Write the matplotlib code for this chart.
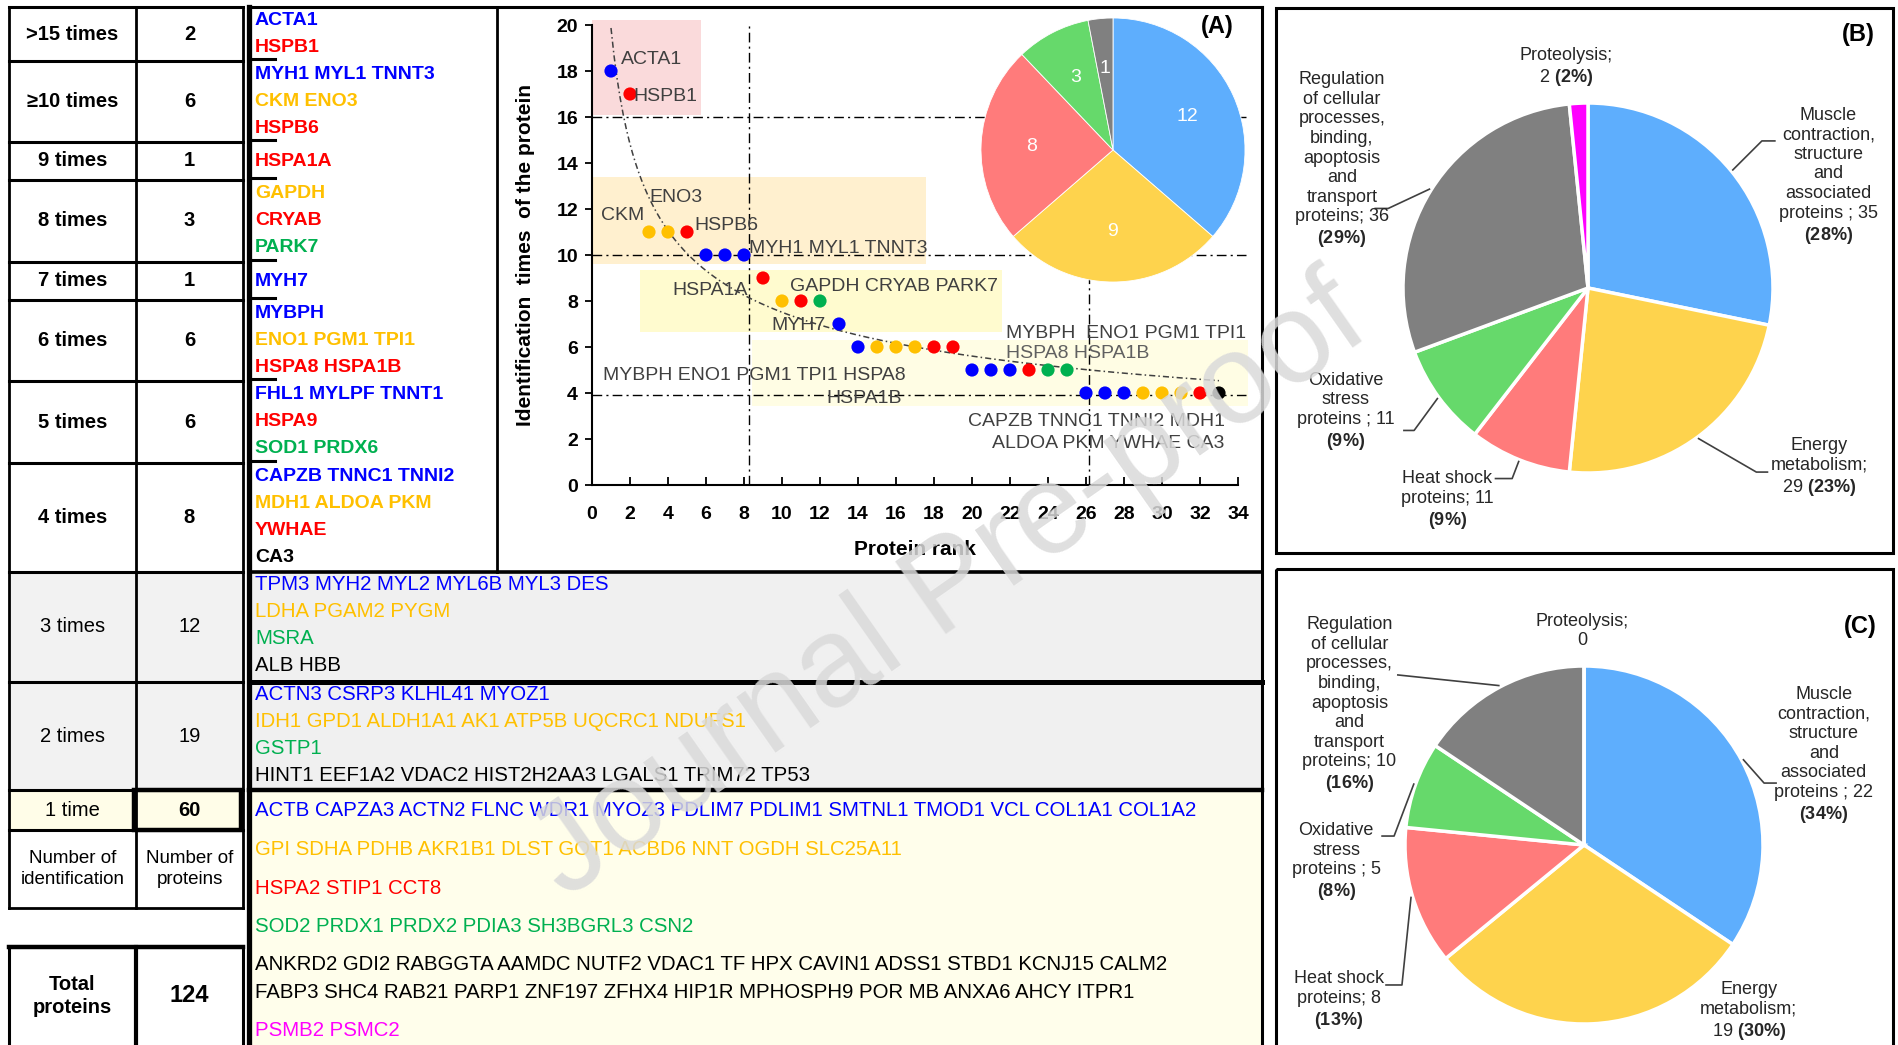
import numpy as np
import matplotlib
matplotlib.use('Agg')
import matplotlib.pyplot as plt
from matplotlib.patches import Rectangle

plt.rcParams['font.family'] = ['Liberation Sans', 'DejaVu Sans']
plt.rcParams['mathtext.fontset'] = 'custom'
plt.rcParams['mathtext.rm'] = 'Liberation Sans'
plt.rcParams['mathtext.bf'] = 'Liberation Sans:bold'

# ---------------- data ----------------
freq_labels = ['>15 times', '≥10 times', '9 times', '8 times', '7 times', '6 times',
               '5 times', '4 times', '3 times', '2 times', '1 time']
protein_counts = [2, 6, 1, 3, 1, 6, 6, 8, 12, 19, 60]

# proteins per identification class, (names, functional group)
gene_rows = [
    [('ACTA1', 'blue'), ('HSPB1', 'red')],
    [('MYH1 MYL1 TNNT3', 'blue'), ('CKM ENO3', 'orange'), ('HSPB6', 'red')],
    [('HSPA1A', 'red')],
    [('GAPDH', 'orange'), ('CRYAB', 'red'), ('PARK7', 'green')],
    [('MYH7', 'blue')],
    [('MYBPH', 'blue'), ('ENO1 PGM1 TPI1', 'orange'), ('HSPA8 HSPA1B', 'red')],
    [('FHL1 MYLPF TNNT1', 'blue'), ('HSPA9', 'red'), ('SOD1 PRDX6', 'green')],
    [('CAPZB TNNC1 TNNI2', 'blue'), ('MDH1 ALDOA PKM', 'orange'), ('YWHAE', 'red'), ('CA3', 'black')],
    [('TPM3 MYH2 MYL2 MYL6B MYL3 DES', 'blue'), ('LDHA PGAM2 PYGM', 'orange'),
     ('MSRA', 'green'), ('ALB HBB', 'black')],
    [('ACTN3 CSRP3 KLHL41 MYOZ1', 'blue'), ('IDH1 GPD1 ALDH1A1 AK1 ATP5B UQCRC1 NDUFS1', 'orange'),
     ('GSTP1', 'green'), ('HINT1 EEF1A2 VDAC2 HIST2H2AA3 LGALS1 TRIM72 TP53', 'black')],
    [('ACTB CAPZA3 ACTN2 FLNC WDR1 MYOZ3 PDLIM7 PDLIM1 SMTNL1 TMOD1 VCL COL1A1 COL1A2', 'blue'),
     ('GPI SDHA PDHB AKR1B1 DLST GOT1 ACBD6 NNT OGDH SLC25A11', 'orange'),
     ('HSPA2 STIP1 CCT8', 'red'),
     ('SOD2 PRDX1 PRDX2 PDIA3 SH3BGRL3 CSN2', 'green'),
     ('ANKRD2 GDI2 RABGGTA AAMDC NUTF2 VDAC1 TF HPX CAVIN1 ADSS1 STBD1 KCNJ15 CALM2\n'
      'FABP3 SHC4 RAB21 PARP1 ZNF197 ZFHX4 HIP1R MPHOSPH9 POR MB ANXA6 AHCY ITPR1', 'black'),
     ('PSMB2 PSMC2', 'magenta')],
]

# scatter (A): protein rank vs identification times
rank = [1, 2, 3, 4, 5, 6, 7, 8, 9, 10, 11, 12, 13, 14, 15, 16, 17,
        18, 19, 20, 21, 22, 23, 24, 25, 26, 27, 28, 29, 30, 31, 32, 33]
times = [18, 17, 11, 11, 11, 10, 10, 10, 9, 8, 8, 8, 7, 6, 6, 6, 6,
         6, 6, 5, 5, 5, 5, 5, 5, 4, 4, 4, 4, 4, 4, 4, 4]
dot_group = ['blue', 'red', 'orange', 'orange', 'red', 'blue', 'blue', 'blue', 'red',
             'orange', 'red', 'green', 'blue', 'blue', 'orange', 'orange', 'orange',
             'red', 'red', 'blue', 'blue', 'blue', 'red', 'green', 'green',
             'blue', 'blue', 'blue', 'orange', 'orange', 'orange', 'red', 'black']

scatter_labels = [
    ('ACTA1', 1.55, 18.5, 'left'), ('HSPB1', 2.2, 16.9, 'left'),
    ('ENO3', 3.0, 12.5, 'left'), ('CKM', 0.45, 11.7, 'left'), ('HSPB6', 5.4, 11.3, 'left'),
    ('MYH1 MYL1 TNNT3', 8.25, 10.3, 'left'), ('HSPA1A', 8.2, 8.45, 'right'),
    ('GAPDH CRYAB PARK7', 10.4, 8.65, 'left'), ('MYH7', 12.3, 6.95, 'right'),
    ('MYBPH  ENO1 PGM1 TPI1', 21.8, 6.6, 'left'), ('HSPA8 HSPA1B', 21.8, 5.7, 'left'),
    ('MYBPH ENO1 PGM1 TPI1 HSPA8', 0.6, 4.75, 'left'), ('HSPA1B', 14.3, 3.78, 'center'),
    ('CAPZB TNNC1 TNNI2 MDH1', 33.3, 2.75, 'right'), ('ALDOA PKM YWHAE CA3', 33.3, 1.8, 'right'),
]

pie_a_counts = [12, 9, 8, 3, 1]
pie_b_counts = [35, 29, 11, 11, 36, 2]
pie_c_counts = [22, 19, 8, 5, 10, 0]
pie_label_tmpl = [
    'Muscle\ncontraction,\nstructure\nand\nassociated\nproteins ; {n}\n{p}',
    'Energy\nmetabolism;\n{n} {p}',
    'Heat shock\nproteins; {n}\n{p}',
    'Oxidative\nstress\nproteins ; {n}\n{p}',
    'Regulation\nof cellular\nprocesses,\nbinding,\napoptosis\nand\ntransport\nproteins; {n}\n{p}',
    'Proteolysis;\n{n} {p}',
]

gene_colors = {'blue': '#0000FF', 'red': '#FF0000', 'orange': '#FFC000',
               'green': '#00B050', 'black': '#000000', 'magenta': '#FF00FF'}
pie_colors = ['#5EAEFD', '#FED34D', '#FF7B7B', '#66D96B', '#808080', '#FF00FF']

# ---------------- figure ----------------
W, H = 1898, 1045
fig = plt.figure(figsize=(W / 100, H / 100), dpi=100)
bg = fig.add_axes([0, 0, 1, 1])
bg.set_xlim(0, W)
bg.set_ylim(H, 0)
bg.axis('off')


def hline(y, x0, x1, lw=2.0):
    bg.plot([x0, x1], [y, y], color='black', lw=lw, solid_capstyle='projecting')


def vline(x, y0, y1, lw=2.0):
    bg.plot([x, x], [y0, y1], color='black', lw=lw, solid_capstyle='projecting')


col_x = [9, 136, 243]
gx0, gx_top, gx1 = 249, 497, 1262
row_y = [7, 61, 142, 180, 262, 300, 381, 463, 572, 682, 790, 830]

# shaded rows
for i in (8, 9):
    bg.add_patch(Rectangle((col_x[0], row_y[i]), col_x[2] - col_x[0], row_y[i + 1] - row_y[i],
                           color='#F2F2F2', lw=0))
    bg.add_patch(Rectangle((gx0, row_y[i]), gx1 - gx0, row_y[i + 1] - row_y[i],
                           color='#F0F0F0', lw=0))
bg.add_patch(Rectangle((col_x[0], row_y[10]), col_x[2] - col_x[0], 40, color='#FFFDE8', lw=0))
bg.add_patch(Rectangle((gx0, row_y[10]), gx1 - gx0, H - row_y[10], color='#FFFEEB', lw=0))

# left table grid
for y in row_y:
    hline(y, col_x[0], col_x[2], 2.2)
hline(908, col_x[0], col_x[2], 2.0)
for x in col_x:
    vline(x, row_y[0], 908, 2.0)
bg.add_patch(Rectangle((col_x[1] - 2, row_y[10]), col_x[2] - col_x[1], 40,
                       fill=False, ec='black', lw=3.2))
for x in col_x:
    vline(x, 947, H + 5, 3.0 if x == col_x[1] else 2.2)
hline(947, col_x[0], col_x[2], 3.2)

# gene box outlines
vline(gx0, row_y[0], H + 5, 3.8)
vline(gx1, row_y[0], H + 5, 2.2)
vline(gx_top, row_y[0], row_y[8], 2.0)
hline(row_y[0], gx0, gx1, 2.2)
hline(row_y[8], gx0, gx1, 2.6)
hline(row_y[9], gx0, gx1, 3.6)
hline(row_y[10], gx0, gx1, 3.2)
for y in row_y[1:8]:
    hline(y - 2, gx0 + 2, gx0 + 26, 2.2)

# left table text
for i, (lab, n) in enumerate(zip(freq_labels, protein_counts)):
    yc = (row_y[i] + row_y[i + 1]) / 2
    upper = i < 8
    bg.text((col_x[0] + col_x[1]) / 2, yc, lab, ha='center', va='center', fontsize=14.5,
            fontweight='bold' if upper else 'normal')
    bg.text((col_x[1] + col_x[2]) / 2, yc, str(n), ha='center', va='center', fontsize=14.5,
            fontweight='bold' if (upper or i == 10) else 'normal')
bg.text((col_x[0] + col_x[1]) / 2, 869, 'Number of\nidentification', ha='center', va='center',
        fontsize=13.5, linespacing=1.35)
bg.text((col_x[1] + col_x[2]) / 2, 869, 'Number of\nproteins', ha='center', va='center',
        fontsize=13.5, linespacing=1.35)
bg.text((col_x[0] + col_x[1]) / 2, 996, 'Total\nproteins', ha='center', va='center',
        fontsize=14.5, fontweight='bold', linespacing=1.3)
bg.text((col_x[1] + col_x[2]) / 2, 996, str(sum(protein_counts)), ha='center', va='center',
        fontsize=17, fontweight='bold')

# gene names
for i, groups in enumerate(gene_rows):
    lines = []
    for names, grp in groups:
        for part in names.split('\n'):
            lines.append((part, grp))
    if i < 8:
        if len(lines) == 1:
            ys = [(row_y[i] + row_y[i + 1]) / 2]
        else:
            ys = [row_y[i] + 13.5 + 27 * k for k in range(len(lines))]
        for (txt, grp), y in zip(lines, ys):
            bg.text(gx0 + 6, y, txt, color=gene_colors[grp], fontsize=14, fontweight='bold',
                    va='center', ha='left')
    elif i < 10:
        for k, (txt, grp) in enumerate(lines):
            bg.text(gx0 + 6, row_y[i] + 12.5 + 27 * k, txt, color=gene_colors[grp],
                    fontsize=14.7, va='center', ha='left')
    else:
        y = 811
        for names, grp in groups:
            parts = names.split('\n')
            for k, part in enumerate(parts):
                bg.text(gx0 + 6, y + 27 * k, part, color=gene_colors[grp], fontsize=14.7,
                        va='center', ha='left')
            y += 27 * (len(parts) - 1) + 38.5

# panel boxes B and C
bg.add_patch(Rectangle((1276, 8), 617, 545, fill=False, ec='black', lw=2.2))
bg.add_patch(Rectangle((1276, 569), 617, 490, fill=False, ec='black', lw=2.2))
bg.text(1217, 27, '(A)', fontsize=17, fontweight='bold', ha='center', va='center')
bg.text(1858, 34, '(B)', fontsize=17, fontweight='bold', ha='center', va='center')
bg.text(1860, 627, '(C)', fontsize=17, fontweight='bold', ha='center', va='center')

# ---------------- scatter (A) ----------------
ax = fig.add_axes([592 / W, 1 - 485 / H, 646 / W, 460 / H])
ax.set_facecolor('none')
ax.set_xlim(0, 34)
ax.set_ylim(0, 20)
for (x0, y0), w, h, c in [((0, 16.1), 5.75, 4.1, '#FADADB'), ((0, 9.6), 17.6, 3.8, '#FFF0CF'),
                          ((2.5, 6.67), 19.1, 2.66, '#FFFBCF'), ((8.4, 3.45), 26.1, 2.85, '#FFFDE4')]:
    ax.add_patch(Rectangle((x0, y0), w, h, color=c, lw=0, zorder=0, clip_on=False))

dash = (0, (7, 3, 1.5, 3))
for yv in (16, 9.98, 3.9):
    ax.plot([0, 34.4], [yv, yv], color='black', lw=1.0, ls=dash, clip_on=False, zorder=1)
for xv in (8.25, 26.15):
    ax.plot([xv, xv], [0, 20], color='black', lw=1.0, ls=dash, zorder=1)

# power-law trend y = a * x^b, least squares in linear space
xr = np.array(rank, dtype=float)
yr = np.array(times, dtype=float)
best = None
for b in np.linspace(-1.0, 0.0, 2001):
    xb = xr ** b
    a = (yr * xb).sum() / (xb * xb).sum()
    sse = ((yr - a * xb) ** 2).sum()
    if best is None or sse < best[0]:
        best = (sse, a, b)
_, a_fit, b_fit = best
xs = np.linspace(1, 33, 200)
ax.plot(xs, a_fit * xs ** b_fit, color='#404040', lw=1.1, ls=(0, (4, 2, 1, 2)), zorder=2)
ax.scatter(rank, times, c=[gene_colors[g] for g in dot_group], s=90, zorder=3, edgecolors='none')

for txt, x, y, ha in scatter_labels:
    col = '#606060' if txt == 'HSPA8 HSPA1B' else '#404040'
    ax.text(x, y, txt, fontsize=14, color=col, ha=ha, va='center', zorder=4)

for s in ('top', 'right'):
    ax.spines[s].set_visible(False)
for s in ('left', 'bottom'):
    ax.spines[s].set_linewidth(1.5)
ax.set_xticks(range(0, 35, 2))
ax.set_yticks(range(0, 21, 2))
ax.tick_params(axis='x', direction='in', length=6, width=1.3, labelsize=14, pad=15)
ax.tick_params(axis='y', direction='out', length=5, width=1.3, labelsize=14, pad=5)
for lbl in ax.get_xticklabels() + ax.get_yticklabels():
    lbl.set_fontweight('bold')
ax.set_ylabel('Identification  times  of the protein', fontsize=15, fontweight='bold')
ax.yaxis.set_label_coords(-0.088, 0.5)
ax.set_xlabel('Protein rank', fontsize=15, fontweight='bold')
ax.xaxis.set_label_coords(0.5, -0.12)

# inset pie in (A)
axA = fig.add_axes([(1113 - 132) / W, 1 - (150 + 132) / H, 264 / W, 264 / H])
tot_a = sum(pie_a_counts)
axA.pie(pie_a_counts, colors=pie_colors[:5], startangle=90, counterclock=False,
        wedgeprops=dict(edgecolor='white', linewidth=0.6),
        autopct=lambda p: '%d' % round(p * tot_a / 100), pctdistance=0.62,
        textprops=dict(color='white', fontsize=14))
axA.set_xlim(-1, 1)
axA.set_ylim(-1, 1)


# ---------------- pies (B) and (C) ----------------
def pct_text(n, total):
    if n == 0:
        return ''
    return r'$\mathbf{(%d\%%)}$' % int(100 * n / total + 0.5)


def draw_pie(cx, cy, r, counts, label_pos, leaders):
    axp = fig.add_axes([(cx - r) / W, 1 - (cy + r) / H, 2 * r / W, 2 * r / H])
    total = sum(counts)
    wedges, _ = axp.pie(counts, colors=pie_colors, startangle=90, counterclock=False,
                        wedgeprops=dict(edgecolor='white', linewidth=2.5))
    axp.set_xlim(-1, 1)
    axp.set_ylim(-1, 1)
    for i, n in enumerate(counts):
        txt = pie_label_tmpl[i].format(n=n, p=pct_text(n, total)).rstrip()
        axp.text(label_pos[i][0], label_pos[i][1], txt, ha='center', va='center',
                 fontsize=13, linespacing=1.2, color='#262626')
        if leaders[i]:
            w = wedges[i]
            th = np.deg2rad((w.theta1 + w.theta2) / 2)
            pts = leaders[i] + [(1.01 * np.cos(th), 1.01 * np.sin(th))]
            axp.plot([p[0] for p in pts], [p[1] for p in pts], color='#404040', lw=1.2,
                     clip_on=False)
    return axp


draw_pie(1588, 288, 185, pie_b_counts,
         [(1.30, 0.605), (1.25, -0.97), (-0.76, -1.15), (-1.31, -0.67), (-1.33, 0.69), (-0.12, 1.19)],
         [[(1.01, 0.795), (0.94, 0.795)], [(0.97, -0.995), (0.91, -0.995)],
          [(-0.5, -1.03), (-0.41, -1.03)], [(-0.995, -0.77), (-0.94, -0.77)],
          [(-1.15, 0.43), (-1.08, 0.43)], None])
draw_pie(1584, 845, 179, pie_c_counts,
         [(1.34, 0.50), (0.92, -0.93), (-1.37, -0.87), (-1.385, -0.095), (-1.31, 0.78), (-0.01, 1.195)],
         [[(1.073, 0.346), (1.006, 0.346)], None,
          [(-1.106, -0.782), (-1.017, -0.782)], [(-1.128, 0.05), (-1.061, 0.05)],
          [(-1.04, 0.95)], None])

# watermark
fig.text(951 / W, 1 - 590 / H, 'Journal Pre-proof', rotation=35, fontsize=92, color='#DADADA',
         alpha=0.85, ha='center', va='center', rotation_mode='anchor', zorder=20)

fig.savefig('out.png', dpi=100)
